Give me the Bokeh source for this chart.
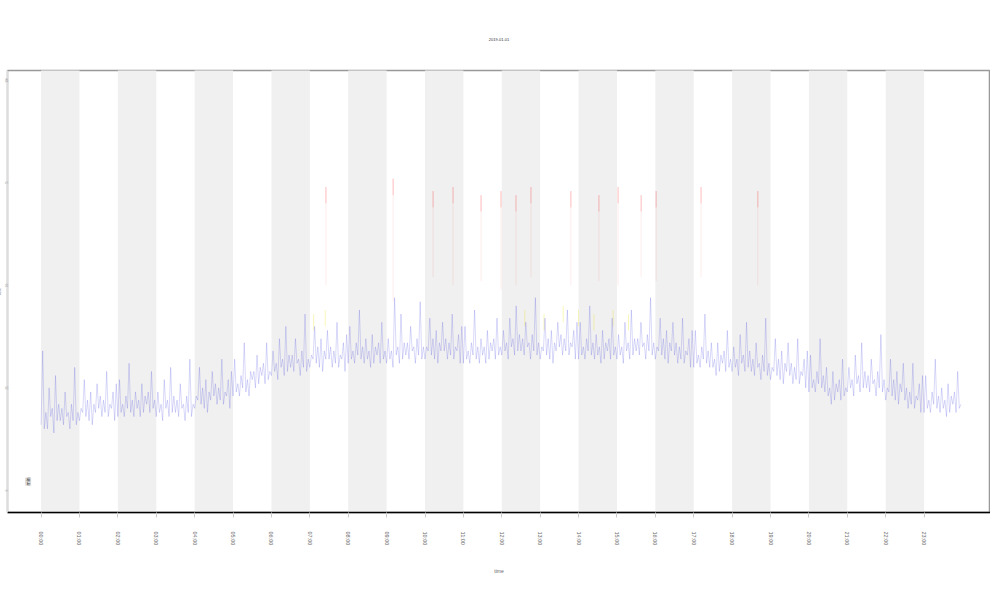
from bokeh.plotting import figure
from bokeh.models import FixedTicker, Label, Title
from bokeh.embed import file_html
from bokeh.resources import INLINE

# ---------------- data ----------------
hour_ticks = list(range(24))
tick_labels = ["%02d:00" % h for h in hour_ticks]
band_left = [0, 2, 4, 6, 8, 10, 12, 14, 16, 18, 20, 22]

y_ticks = [0, 25, 50, 75, 100]
y_tick_labels = ["0", "25", "50", "75", "100"]

# main series, 2.5-minute samples (12 per half hour)
blue_vals = [
    16, 34, 15, 19, 15, 25, 18, 20, 14, 28, 17, 21,
    17, 20, 16, 24, 18, 19, 15, 21, 17, 30, 16, 19,
    17, 20, 19, 27, 18, 22, 17, 24, 16, 21, 19, 26,
    20, 23, 18, 22, 19, 29, 18, 21, 20, 24, 17, 26,
    18, 27, 19, 21, 18, 23, 20, 31, 19, 22, 18, 24,
    20, 22, 18, 26, 19, 23, 21, 24, 19, 29, 20, 22,
    18, 24, 19, 21, 17, 27, 20, 22, 18, 30, 19, 23,
    19, 22, 18, 26, 20, 21, 17, 23, 19, 32, 18, 21,
    20, 23, 22, 30, 21, 25, 20, 27, 19, 24, 22, 29,
    23, 26, 21, 25, 22, 32, 21, 24, 23, 27, 20, 29,
    23, 32, 24, 26, 23, 28, 25, 36, 24, 27, 23, 29,
    27, 29, 25, 33, 26, 30, 28, 31, 26, 36, 27, 29,
    28, 34, 29, 31, 27, 37, 30, 32, 28, 40, 29, 33,
    30, 33, 29, 37, 31, 32, 28, 34, 30, 43, 29, 32,
    30, 33, 32, 40, 31, 35, 30, 37, 29, 34, 32, 39,
    32, 35, 30, 34, 31, 41, 30, 33, 32, 36, 29, 38,
    31, 40, 32, 34, 31, 36, 33, 44, 32, 35, 31, 37,
    32, 34, 30, 38, 31, 35, 33, 36, 31, 41, 32, 34,
    31, 37, 32, 34, 30, 47, 33, 35, 31, 43, 32, 36,
    33, 36, 32, 40, 34, 35, 31, 37, 33, 46, 32, 35,
    32, 35, 34, 42, 33, 37, 32, 39, 31, 36, 34, 41,
    34, 37, 32, 36, 33, 43, 32, 35, 34, 38, 31, 40,
    31, 40, 32, 34, 31, 36, 33, 44, 32, 35, 31, 37,
    33, 35, 31, 39, 32, 36, 34, 37, 32, 42, 33, 35,
    33, 39, 34, 36, 32, 42, 35, 37, 33, 45, 34, 38,
    34, 37, 33, 41, 35, 36, 32, 38, 34, 47, 33, 36,
    32, 35, 34, 42, 33, 37, 32, 39, 31, 36, 34, 41,
    35, 38, 33, 37, 34, 44, 33, 36, 35, 39, 32, 41,
    32, 41, 33, 35, 32, 37, 34, 45, 33, 36, 32, 38,
    33, 35, 31, 39, 32, 36, 34, 37, 32, 42, 33, 35,
    32, 38, 33, 35, 31, 41, 34, 36, 32, 44, 33, 37,
    34, 37, 33, 41, 35, 36, 32, 38, 34, 47, 33, 36,
    32, 35, 34, 42, 33, 37, 32, 39, 31, 36, 34, 41,
    33, 36, 31, 35, 32, 42, 31, 34, 33, 37, 30, 39,
    30, 39, 31, 33, 30, 35, 32, 43, 31, 34, 30, 36,
    30, 32, 28, 36, 29, 33, 31, 34, 29, 39, 30, 32,
    29, 35, 30, 32, 28, 38, 31, 33, 29, 41, 30, 34,
    29, 32, 28, 36, 30, 31, 27, 33, 29, 42, 28, 31,
    27, 30, 29, 37, 28, 32, 27, 34, 26, 31, 29, 36,
    28, 31, 26, 30, 27, 37, 26, 29, 28, 32, 25, 34,
    24, 33, 25, 27, 24, 29, 26, 37, 25, 28, 24, 30,
    23, 25, 21, 29, 22, 26, 24, 27, 22, 32, 23, 25,
    24, 30, 25, 27, 23, 33, 26, 28, 24, 36, 25, 29,
    25, 28, 24, 32, 26, 27, 23, 29, 25, 38, 24, 27,
    22, 25, 24, 32, 23, 27, 22, 29, 21, 26, 24, 31,
    22, 25, 20, 24, 21, 31, 20, 23, 22, 26, 19, 28,
    19, 28, 20, 22, 19, 24, 21, 32, 20, 23, 19, 25,
    20, 22, 18, 26, 19, 23, 21, 24, 19, 29, 20, 21,
]
blue_hours = [i / 24.0 for i in range(len(blue_vals))]

# sparse high peaks (red)
red_hours = [7.42, 9.17, 10.21, 10.73, 11.46, 11.98, 12.37, 12.76,
             13.80, 14.53, 15.03, 15.63, 16.02, 17.19, 18.67]
red_vals = [74, 76, 73, 74, 72, 73, 72, 74, 73, 72, 74, 72, 73, 74, 73]
red_base = [50, 46, 52, 50, 51, 49, 50, 52, 50, 51, 50, 52, 51, 52, 50]

# medium peaks (yellow)
yellow_hours = [7.1, 7.4, 12.6, 13.1, 13.6, 14.0, 14.4, 14.9, 15.3]
yellow_vals = [43, 44, 44, 43, 45, 44, 43, 44, 43]

# ---------------- figure ----------------
p = figure(width=995, height=592, output_backend="svg", toolbar_location=None,
           x_range=(-0.875, 24.73), y_range=(-5.4, 102.4),
           min_border_left=2, min_border_right=0, min_border_top=70,
           min_border_bottom=80)
p.styles = {"margin-left": "-5px"}

p.title = Title(text="2019-01-01", align="center", text_font_size="4px",
                text_color="#333333", text_font_style="normal", standoff=59)

p.quad(left=band_left, right=[b + 1 for b in band_left],
       bottom=-10, top=110, fill_color="#f0f0f0", line_color=None)

p.segment(x0=red_hours, x1=red_hours, y0=red_base, y1=red_vals,
          line_color="red", line_alpha=0.1, line_width=0.8)
p.segment(x0=red_hours, x1=red_hours, y0=[v - 4 for v in red_vals], y1=red_vals,
          line_color="red", line_alpha=0.25, line_width=0.8)
p.segment(x0=yellow_hours, x1=yellow_hours, y0=[v - 4 for v in yellow_vals],
          y1=yellow_vals, line_color="#e8e000", line_alpha=0.35, line_width=0.8)

p.line(blue_hours, blue_vals, line_color="#3a3ae0", line_alpha=0.32, line_width=0.6)

p.add_layout(Label(x=-0.26, y=1.2, text="min", angle=1.5708,
                   text_font_size="5px", text_color="#444444",
                   background_fill_color="#dddddd"))

p.xgrid.visible = False
p.ygrid.visible = False
p.background_fill_color = "white"
p.outline_line_color = "#999999"
p.outline_line_width = 1.5

p.xaxis.ticker = FixedTicker(ticks=hour_ticks)
p.xaxis.major_label_overrides = {h: t for h, t in zip(hour_ticks, tick_labels)}
p.xaxis.major_label_orientation = "vertical"
p.xaxis.major_label_text_font_size = "5.5px"
p.xaxis.major_label_text_color = "#666666"
p.xaxis.major_label_standoff = 14
p.xaxis.major_tick_out = 5
p.xaxis.major_tick_in = 0
p.xaxis.major_tick_line_color = "#cccccc"
p.xaxis.minor_tick_line_color = None
p.xaxis.axis_line_color = "black"
p.xaxis.axis_line_width = 1.5
p.xaxis.axis_label = "time"
p.xaxis.axis_label_text_font_size = "5px"
p.xaxis.axis_label_text_font_style = "normal"
p.xaxis.axis_label_text_color = "#666666"
p.xaxis.axis_label_standoff = 20

p.yaxis.ticker = FixedTicker(ticks=y_ticks)
p.yaxis.major_label_overrides = {t: l for t, l in zip(y_ticks, y_tick_labels)}
p.yaxis.major_label_orientation = "vertical"
p.yaxis.major_label_text_font_size = "3px"
p.yaxis.major_label_text_color = "#999999"
p.yaxis.major_label_standoff = 0
p.yaxis.major_tick_out = 0
p.yaxis.major_tick_in = 0
p.yaxis.minor_tick_line_color = None
p.yaxis.axis_line_color = "#dddddd"
p.yaxis.axis_label = "value"
p.yaxis.axis_label_text_font_size = "3px"
p.yaxis.axis_label_text_font_style = "normal"
p.yaxis.axis_label_text_color = "#999999"
p.yaxis.axis_label_standoff = 0

open("out.html", "w").write(file_html(p, INLINE))
